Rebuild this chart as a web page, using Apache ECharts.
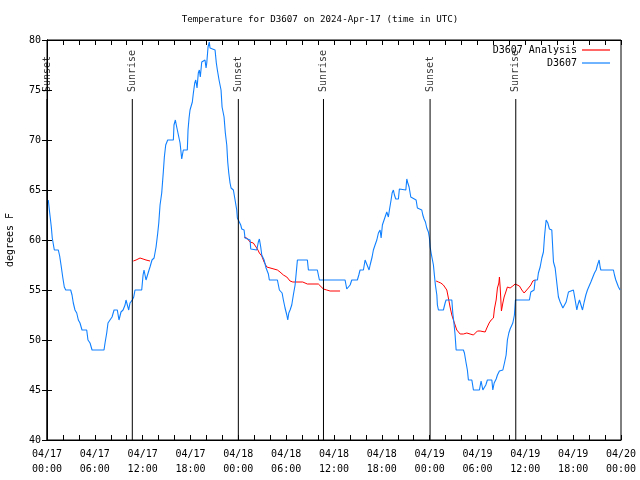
<!DOCTYPE html>
<html>
<head>
<meta charset="utf-8">
<script src="https://cdn.jsdelivr.net/npm/echarts@6/dist/echarts.min.js"></script>
<style>html,body{margin:0;padding:0;background:#fff}#c{width:640px;height:480px}</style>
</head>
<body>
<div id="c"></div>
<script>
// hours since 2024-04-17 00:00 UTC, temperature in degrees F
var d3607 = [
[0.16,64],[0.34,62.7],[0.54,61.3],[0.66,60.2],[0.92,59],[1.42,59],[1.59,58.4],[1.76,57.5],[1.97,56.3],[2.17,55.3],[2.35,55],[2.97,55],
[3.14,54.5],[3.30,53.7],[3.51,53],[3.73,52.7],[3.93,52],[4.14,51.7],[4.39,51],[4.98,51],[5.14,50],[5.40,49.7],[5.65,49],[7.15,49],
[7.28,49.7],[7.49,50.7],[7.65,51.7],[7.90,52],[8.16,52.3],[8.41,53],[8.82,53],[9.03,52],[9.28,52.8],[9.54,53],[9.79,53.5],[9.91,54],
[10.16,54],[10.25,53],[10.41,53.7],[10.70,54],[10.88,54.3],[11.04,55],[11.88,55],[12.05,56.5],[12.17,57],[12.42,56],[12.58,56],
[12.80,57],[12.92,57.3],[13.17,58],[13.43,58.2],[13.68,59.3],[13.89,60.7],[14.02,61.7],[14.18,63.5],[14.39,64.7],[14.59,66.8],
[14.72,68.3],[14.89,69.5],[15.14,70],[15.85,70],[15.93,71.5],[16.10,72],[16.27,71.3],[16.69,69.7],[16.90,68.1],[17.03,68.7],
[17.10,69],[17.60,69],[17.69,71],[17.82,72.2],[17.94,73],[18.16,73],[18.23,73.8],[18.36,74.7],[18.53,75.7],[18.66,76],[18.82,75.2],
[18.98,76.7],[19.11,77],[19.23,76.3],[19.41,77.8],[19.61,78],[19.82,78],[19.95,77.2],[20.04,77.7],[20.20,79.3],[20.36,79.8],
[20.45,79.2],[20.58,79],[21.08,79],[21.24,77.7],[21.37,77],[21.58,76],[21.71,75.8],[21.83,75],[21.96,73.3],[22.21,72.3],[22.37,70.7],
[22.55,69.5],[22.67,67.8],[22.80,66.7],[22.96,65.7],[23.09,65.2],[23.38,65],[23.59,64],[23.80,63],[23.88,62.2],[24.13,62],[24.30,61.5],
[24.43,61.1],[24.72,61],[24.84,60.2],[25.47,60],[25.56,59.1],[26.31,59],[26.51,59.8],[26.64,60.1],[26.81,59.3],[26.94,58.5],
[27.23,58],[27.48,57.2],[27.77,56.6],[27.89,56],[28.90,56],[29.15,55],[29.49,54.7],[29.65,54],[29.86,53.2],[30.08,52.5],[30.20,52],
[30.33,52.7],[30.49,53],[30.70,53.5],[30.90,54.5],[31.12,55.5],[31.33,57.3],[31.41,58],[32.66,58],[32.79,57],[33.91,57],[34.17,56],
[37.39,56],[37.60,55.1],[37.80,55],[38.02,55.5],[38.23,56],[38.93,56],[39.11,56.5],[39.27,57],[39.69,57],[39.90,58],[40.15,58],
[40.40,57],[40.53,57.5],[40.78,58.3],[40.94,59],[41.15,59.5],[41.37,60],[41.57,60.7],[41.78,61],[41.91,60.2],[42.07,61.5],[42.28,62],
[42.45,62],[42.62,62.8],[42.82,62.3],[42.95,63],[43.16,64],[43.29,64.7],[43.45,65],[43.58,64.5],[43.75,64.1],[44.08,64.1],[44.20,65.1],
[45.01,65],[45.13,66.1],[45.26,65.7],[45.42,65.3],[45.63,64.3],[45.76,64.1],[46.30,64],[46.46,63.2],[47.01,63],[47.14,62.5],
[47.30,62.1],[47.47,61.8],[47.64,61.2],[47.84,60.8],[47.97,60.2],[48.06,59.3],[48.18,58.7],[48.31,58.5],[48.47,57.5],[48.59,56.5],
[48.72,55.5],[48.90,54.5],[48.97,53.5],[49.10,53],[49.72,53],[49.94,53.7],[50.06,54],[50.78,54],[50.90,52.7],[51.07,51.5],
[51.19,50.5],[51.32,49],[52.23,49],[52.36,48.7],[52.57,47.7],[52.73,47],[52.86,46],[53.29,46],[53.49,45],[54.24,45],[54.45,45.9],
[54.67,45],[54.89,45],[55.04,45.5],[55.24,46],[55.80,46],[55.92,45],[56.09,45.7],[56.34,46.1],[56.50,46.5],[56.75,46.9],[57.18,47],
[57.38,47.7],[57.59,48.5],[57.75,50],[57.93,50.7],[58.09,51.1],[58.31,51.1],[58.43,51.7],[58.63,52.5],[58.76,54],[60.51,54],
[60.69,54.8],[60.85,55],[61.10,55],[61.23,56],[61.52,56],[61.64,56.7],[61.86,57.3],[62.07,58.2],[62.27,58.8],[62.40,60.3],
[62.52,61.3],[62.61,62],[62.82,61.7],[63.02,61.1],[63.32,61],[63.45,59],[63.53,57.8],[63.74,57.2],[63.95,55.7],[64.15,54.3],
[64.37,53.8],[64.71,53.2],[64.87,53],[65.12,53.8],[65.41,54.8],[65.53,55],[66.03,55],[66.25,54],[66.46,53],[66.59,53.5],[66.79,54],
[66.97,54],[67.17,53],[67.38,53.8],[67.59,54.5],[67.79,55],[68.04,55.2],[68.22,55.8],[68.47,56],[68.67,56.7],[68.88,57],[69.05,57.5],
[69.26,58],[69.38,57.3],[69.47,57],[71.05,57],[71.18,56.5],[71.35,56],[71.52,56],[71.68,55.3],[71.89,55]
];
var analysisNight1 = [[10.83,57.9],[11.17,58],[11.67,58.2],[12.05,58.1],[12.42,58],[12.92,57.9]];
var analysisNight2 = [
[24.72,60.3],[25.06,60.2],[25.47,59.8],[25.88,59.7],[26.10,59.5],[26.39,59.1],[26.64,58.7],[26.94,58.4],[27.23,57.8],[27.57,57.3],
[27.77,57.1],[28.90,57],[29.23,56.8],[29.65,56.5],[30.08,56.3],[30.49,55.9],[30.83,55.8],[32.08,55.8],[32.37,55.7],[32.66,55.6],
[34.04,55.6],[34.25,55.4],[34.67,55.1],[35.09,55],[35.51,54.9],[36.76,54.9]
];
var analysisNight3 = [
[48.81,55.9],[49.10,55.8],[49.40,55.7],[49.72,55.5],[49.97,55.4],[50.15,55],[50.35,54.2],[50.56,53.3],[50.78,52.5],[50.98,52],
[51.19,51.5],[51.40,51],[51.82,50.6],[52.23,50.6],[52.66,50.7],[53.07,50.6],[53.49,50.5],[53.70,50.5],[53.99,50.9],[54.33,50.9],
[54.96,50.8],[55.17,51.2],[55.46,51.7],[55.71,52],[56.00,52.2],[56.12,53.1],[56.34,54],[56.50,55.2],[56.68,55.7],[56.75,56.3],
[56.84,55.3],[56.93,54],[57.00,52.9],[57.18,53.7],[57.34,54.3],[57.55,54.8],[57.75,55.3],[58.09,55.2],[58.43,55.4],[58.72,55.6],
[58.93,55.7],[59.26,55.4],[59.56,55],[59.85,54.7],[60.10,54.7],[60.39,55.2],[60.69,55.5],[60.94,55.9],[61.23,56]
];
var sunTimes = [0.0, 10.7, 24.0, 34.68, 48.05, 58.8];
var sunNames = ['Sunset','Sunrise','Sunset','Sunrise','Sunset','Sunrise'];
var yTop = 74.1; // where the event line stops below its label
var yMin = 40, yMax = 80;

var sunLines = [];
var sunLabels = [];
for (var i = 0; i < sunTimes.length; i++) {
  sunLines.push([sunTimes[i], yMin], [sunTimes[i], yTop], [sunTimes[i], null]);
  sunLabels.push([sunTimes[i], yTop, sunNames[i]]);
}
var font = 'DejaVu Sans Mono';
function pad(n){return (n<10?'0':'')+n;}
var chart = echarts.init(document.getElementById('c'));
chart.setOption({
  animation: false,
  backgroundColor: '#fff',
  title: {text: 'Temperature for D3607 on 2024-Apr-17 (time in UTC)', left: 'center', top: 10,
    textStyle: {fontFamily: font, fontSize: 9.2, fontWeight: 'normal', color: '#000'}},
  legend: {data: ['D3607 Analysis','D3607'], orient: 'vertical', right: 25, top: 40, align: 'right',
    icon: 'rect', itemWidth: 28, itemHeight: 1.2, itemGap: 3,
    textStyle: {fontFamily: font, fontSize: 10, color: '#000', lineHeight: 10}},
  grid: {left: 47, right: 19, top: 40, bottom: 40, show: true, borderColor: '#000', borderWidth: 1, outerBoundsMode: 'none', containLabel: false},
  xAxis: [{
    type: 'value', min: 0, max: 72, interval: 2,
    axisLine: {lineStyle: {color: '#000'}},
    axisTick: {inside: true, length: 5, lineStyle: {color: '#000'}},
    splitLine: {show: false},
    axisLabel: {fontFamily: font, fontSize: 10, color: '#000', lineHeight: 15, margin: 7,
      showMinLabel: true, showMaxLabel: true,
      formatter: function(v){ if (v % 6 !== 0) return ''; var d = 17 + Math.floor(v/24); return '04/' + d + '\n' + pad(v%24) + ':00'; }}
  },{
    type: 'value', min: 0, max: 72, interval: 2, position: 'top',
    axisLine: {lineStyle: {color: '#000'}},
    axisTick: {inside: true, length: 5, lineStyle: {color: '#000'}},
    axisLabel: {show: false}, splitLine: {show: false}
  }],
  yAxis: [{
    type: 'value', min: yMin, max: yMax, interval: 5,
    name: 'degrees F', nameLocation: 'middle', nameGap: 32,
    nameTextStyle: {fontFamily: font, fontSize: 10, color: '#000'},
    axisLine: {show: true, lineStyle: {color: '#000'}},
    axisTick: {show: true, inside: true, length: 5, lineStyle: {color: '#000'}},
    splitLine: {show: false},
    axisLabel: {fontFamily: font, fontSize: 10, color: '#000', margin: 6}
  },{
    type: 'value', min: yMin, max: yMax, interval: 5, position: 'right',
    axisLine: {show: true, lineStyle: {color: '#000'}},
    axisTick: {show: true, inside: true, length: 5, lineStyle: {color: '#000'}},
    axisLabel: {show: false}, splitLine: {show: false}
  }],
  series: [
    {name: 'D3607 Analysis', type: 'line', data: analysisNight1, symbol: 'none', lineStyle: {color: '#ff0000', width: 1}, itemStyle: {color: '#ff0000'}},
    {name: 'D3607 Analysis', type: 'line', data: analysisNight2, symbol: 'none', lineStyle: {color: '#ff0000', width: 1}, itemStyle: {color: '#ff0000'}},
    {name: 'D3607 Analysis', type: 'line', data: analysisNight3, symbol: 'none', lineStyle: {color: '#ff0000', width: 1}, itemStyle: {color: '#ff0000'}},
    {name: 'D3607', type: 'line', data: d3607, symbol: 'none', lineStyle: {color: '#1080ff', width: 1.1}, itemStyle: {color: '#1080ff'}},
    {name: 'sun', type: 'line', data: sunLines, symbol: 'none', connectNulls: false, silent: true,
      lineStyle: {color: '#000', width: 1}, z: 3},
    {name: 'sunlabel', type: 'scatter', data: sunLabels, symbolSize: 0, silent: true,
      label: {show: true, position: [0, -7], rotate: 90, align: 'left', verticalAlign: 'middle',
        fontFamily: font, fontSize: 10, color: '#000',
        formatter: function(p){ return p.value[2]; }}}
  ]
});
</script>
</body>
</html>
